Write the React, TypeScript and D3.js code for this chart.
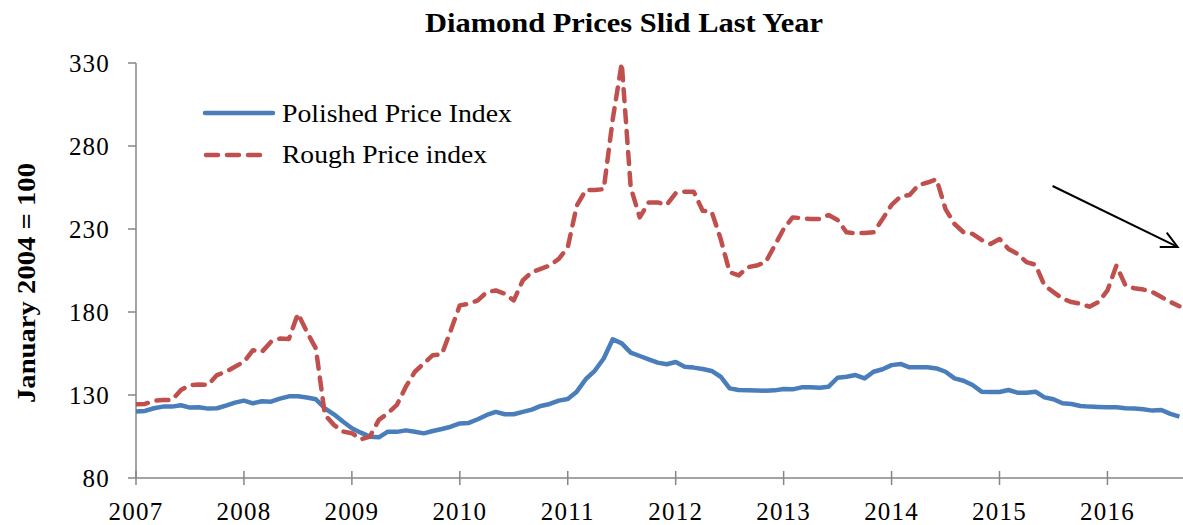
import { useEffect, useRef } from "react";
import * as d3 from "d3";

// monthly index values, Jan 2007 .. Sep 2016
const polished = [
  120, 120.4, 122, 123, 123, 123.8, 122.4, 122.6, 121.8, 122, 123.6, 125.4,
  126.6, 125, 126.2, 126, 127.8, 129.2, 129.2, 128.5, 127.4, 122, 118.4, 114,
  110, 107.3, 104.9, 104.5, 107.9, 107.8, 108.7, 107.9, 106.9, 108.3, 109.5, 110.9,
  112.9, 113.2, 115.4, 118, 119.8, 118.4, 118.4, 119.8, 121.2, 123.4, 124.6, 126.6,
  127.6, 132, 139.5, 144.6, 152, 163.6, 161.1, 155.5, 153.5, 151.5, 149.5, 148.5,
  149.9, 147, 146.5, 145.7, 144.5, 141, 134, 133, 132.8, 132.7, 132.6, 132.8,
  133.6, 133.4, 134.6, 134.6, 134.4, 135, 140.4, 141, 142, 140, 144, 145.5,
  148, 148.7, 146.7, 146.7, 146.7, 146, 144, 140, 138.6, 136, 132, 131.8,
  131.8, 133, 131.4, 131.4, 132, 128.6, 127.4, 125, 124.6, 123.4, 123, 122.8,
  122.6, 122.6, 122, 121.8, 121.4, 120.6, 121, 118.6, 117,
];

const rough = [
  124.4, 124.6, 126.5, 127, 127, 133, 136, 136.3, 136, 142, 144, 147,
  150, 157, 156, 162, 164, 163.8, 179, 168, 158, 118, 112, 108,
  107, 103.3, 105, 115, 119, 124, 135, 144, 149, 154, 154.5, 169,
  184, 185, 187, 192, 193, 191, 187, 199, 204, 206, 208, 212,
  219, 244, 253.5, 253.5, 254, 296, 330, 255, 237, 246, 246, 244.5,
  251.5, 252.5, 252.5, 241, 240.4, 224, 204, 202, 207, 208, 210, 220,
  230, 237, 236.5, 236, 236, 238.4, 235.4, 228, 227.4, 227.6, 228, 236,
  244.5, 249.5, 250.5, 256.5, 258, 260, 242, 233, 228, 227, 223.4, 221,
  224, 218, 215, 210, 208.5, 196, 192, 188, 186, 185, 183.2, 186,
  193, 208, 196, 194.3, 193.5, 192, 189, 186, 183.5,
];

const years = [2007, 2008, 2009, 2010, 2011, 2012, 2013, 2014, 2015, 2016];
const yTicks = [80, 130, 180, 230, 280, 330];
const seriesNames = ["Polished Price Index", "Rough Price index"];
// annotation arrow, in (month index, value)
const arrowFrom = [101.9, 255.9];
const arrowTo = [115.8, 219.2];

export default function App() {
  const svgRef = useRef<SVGSVGElement>(null);

  useEffect(() => {
    if (!svgRef.current) return;
    const svg = d3.select(svgRef.current);
    svg.selectAll("*").remove();

    const width = 1183;
    const height = 525;
    const left = 136, right = 1183, top = 63, bottom = 478;
    const font = "'Liberation Serif', serif";

    svg.attr("width", width).attr("height", height).style("font-family", font);

    const x = d3.scaleLinear().domain([0, 116.4]).range([left, right]);
    const y = d3.scaleLinear().domain([80, 330]).range([bottom, top]);

    const axisColor = "#868686";

    // title (stretched a little: the original face is wider than Times)
    svg.append("text")
      .attr("x", 425).attr("y", 32)
      .attr("textLength", 398).attr("lengthAdjust", "spacingAndGlyphs")
      .style("font-size", "27px").style("font-weight", "bold")
      .text("Diamond Prices Slid Last Year");

    // y axis label
    svg.append("text")
      .attr("transform", `translate(35,403) rotate(-90)`)
      .attr("textLength", 240).attr("lengthAdjust", "spacingAndGlyphs")
      .style("font-size", "25px").style("font-weight", "bold")
      .text("January 2004 = 100");

    // y axis
    svg.append("line")
      .attr("x1", left).attr("x2", left).attr("y1", top).attr("y2", bottom)
      .attr("stroke", axisColor).attr("stroke-width", 1.5);
    svg.selectAll(".ytick").data(yTicks).enter().append("line")
      .attr("x1", left - 8).attr("x2", left)
      .attr("y1", d => y(d)).attr("y2", d => y(d))
      .attr("stroke", axisColor).attr("stroke-width", 1.5);
    svg.selectAll(".ylab").data(yTicks).enter().append("text")
      .attr("x", 110).attr("y", d => y(d)).attr("dy", "0.35em")
      .attr("text-anchor", "end")
      .style("font-size", "25px").style("letter-spacing", "1.2px")
      .text(d => d);

    // x axis
    svg.append("line")
      .attr("x1", left).attr("x2", right).attr("y1", bottom).attr("y2", bottom)
      .attr("stroke", axisColor).attr("stroke-width", 1.5);
    svg.selectAll(".xtick").data(years).enter().append("line")
      .attr("x1", d => x((d - 2007) * 12)).attr("x2", d => x((d - 2007) * 12))
      .attr("y1", bottom - 7).attr("y2", bottom + 7)
      .attr("stroke", axisColor).attr("stroke-width", 1.5);
    svg.selectAll(".xlab").data(years).enter().append("text")
      .attr("x", d => x((d - 2007) * 12)).attr("y", 520)
      .attr("text-anchor", "middle")
      .style("font-size", "25px").style("letter-spacing", "1.2px")
      .text(d => d);

    // clip
    svg.append("clipPath").attr("id", "plot")
      .append("rect").attr("x", left).attr("y", top - 1)
      .attr("width", right - left).attr("height", bottom - top + 1);

    const line = d3.line<number>().x((_, i) => x(i)).y(d => y(d));

    svg.append("path")
      .datum(polished)
      .attr("d", line)
      .attr("fill", "none")
      .attr("stroke", "#4A7EBB")
      .attr("stroke-width", 4.5)
      .attr("stroke-linejoin", "round")
      .attr("clip-path", "url(#plot)");

    svg.append("path")
      .datum(rough)
      .attr("d", line)
      .attr("fill", "none")
      .attr("stroke", "#C0504D")
      .attr("stroke-width", 4.5)
      .attr("stroke-dasharray", "12 9")
      .attr("stroke-linecap", "round")
      .attr("stroke-linejoin", "round")
      .attr("clip-path", "url(#plot)");

    // legend
    const lg = svg.append("g");
    lg.append("line").attr("x1", 205).attr("x2", 273).attr("y1", 113).attr("y2", 113)
      .attr("stroke", "#4A7EBB").attr("stroke-width", 4.5).attr("stroke-linecap", "round");
    lg.append("line").attr("x1", 206).attr("x2", 264).attr("y1", 155).attr("y2", 155)
      .attr("stroke", "#C0504D").attr("stroke-width", 4.5)
      .attr("stroke-dasharray", "12 9").attr("stroke-linecap", "round");
    lg.selectAll("text").data(seriesNames).enter().append("text")
      .attr("x", 282).attr("y", (_, i) => 122 + i * 40.5)
      .attr("textLength", (_, i) => (i === 0 ? 230 : 205))
      .attr("lengthAdjust", "spacingAndGlyphs")
      .style("font-size", "25px")
      .text(d => d);

    // arrow annotation
    svg.append("defs").append("marker")
      .attr("id", "arrowhead")
      .attr("viewBox", "0 0 20 20").attr("refX", 18).attr("refY", 10)
      .attr("markerWidth", 20).attr("markerHeight", 20)
      .attr("markerUnits", "userSpaceOnUse")
      .attr("orient", "auto")
      .append("path")
      .attr("d", "M2,2 L18,10 L2,18")
      .attr("fill", "none").attr("stroke", "#000").attr("stroke-width", 2);
    svg.append("line")
      .attr("x1", x(arrowFrom[0])).attr("y1", y(arrowFrom[1]))
      .attr("x2", x(arrowTo[0])).attr("y2", y(arrowTo[1]))
      .attr("stroke", "#000").attr("stroke-width", 2)
      .attr("marker-end", "url(#arrowhead)");
  }, []);

  return (
    <div style={{ position: "absolute", left: 0, top: 0, background: "#fff" }}>
      <svg ref={svgRef}></svg>
    </div>
  );
}
